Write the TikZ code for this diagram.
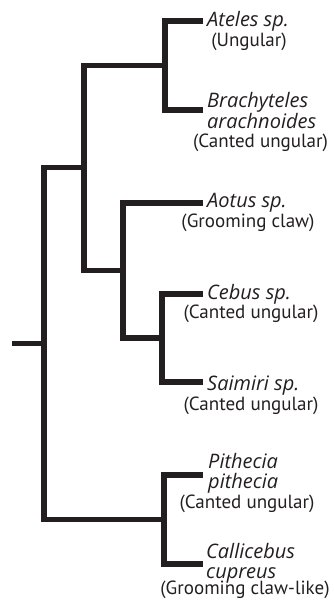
\documentclass[tikz,border=0pt]{standalone}
\usepackage{fontspec}
\setmainfont{PT Sans}
\newfontfamily\namefont{Open Sans}
\definecolor{ink}{RGB}{35,31,32}
\newlength\habitw
\newlength\taxonw
\begin{document}
\settowidth\habitw{\fontsize{10}{12}\selectfont (Canted ungular)}%
\settowidth\taxonw{\namefont\itshape\fontsize{10}{12}\selectfont arachnoides}%
\pgfmathsetmacro\habitsize{10*135/\habitw}%
\pgfmathsetmacro\taxonsize{10*109/\taxonw}%
\begin{tikzpicture}[x=1pt,y=-1pt,
  branch/.style={draw=ink,line width=5.5pt,line join=miter,line cap=butt},
  taxon/.style={anchor=base west,inner sep=0pt,font=\namefont\itshape\fontsize{\taxonsize}{20}\selectfont,text=ink},
  habit/.style={anchor=base,inner sep=0pt,font=\fontsize{\habitsize}{20}\selectfont,text=ink}]
\useasboundingbox (0,0) rectangle (333,602);
% tips
\coordinate (tAt) at (203,21);
\coordinate (tBr) at (203,110);
\coordinate (tAo) at (203,203);
\coordinate (tCe) at (203,294);
\coordinate (tSa) at (203,382);
\coordinate (tPi) at (203,475);
\coordinate (tCa) at (203,564);
% internal nodes
\coordinate (nA) at (165,65.5);
\coordinate (nD) at (162,338);
\coordinate (nC) at (123,270.5);
\coordinate (nB) at (84,167.5);
\coordinate (nE) at (164,519.5);
\coordinate (nR) at (44,343.5);
\coordinate (stub) at (12,343.5);
% branches
\path[branch] (tAt) -| (nA);
\path[branch] (tBr) -| (nA);
\path[branch] (tCe) -| (nD);
\path[branch] (tSa) -| (nD);
\path[branch] (tAo) -| (nC);
\path[branch] (nD) -| (nC);
\path[branch] (nA) -| (nB);
\path[branch] (nC) -| (nB);
\path[branch] (tPi) -| (nE);
\path[branch] (tCa) -| (nE);
\path[branch] (nB) -| (nR);
\path[branch] (nE) -| (nR);
\path[branch] (nR) -- (stub);
% labels
\node[taxon] (lAt) at (207,27) {Ateles sp.};
\node[habit] (hAt) at (249,47) {(Ungular)};
\node[taxon] (lBr1) at (207,107) {Brachyteles};
\node[taxon] (lBr2) at (207,128) {arachnoides};
\node[habit] (hBr) at (260.5,147) {(Canted ungular)};
\node[taxon] (lAo) at (207,207) {Aotus sp.};
\node[habit] (hAo) at (248,227) {(Grooming claw)};
\node[taxon] (lCe) at (207,299) {Cebus sp.};
\node[habit] (hCe) at (251,318) {(Canted ungular)};
\node[taxon] (lSa) at (207,390) {Saimiri sp.};
\node[habit] (hSa) at (251,410) {(Canted ungular)};
\node[taxon] (lPi1) at (208,468) {Pithecia};
\node[taxon] (lPi2) at (208,488) {pithecia};
\node[habit] (hPi) at (247,508) {(Canted ungular)};
\node[taxon] (lCa1) at (206,558) {Callicebus};
\node[taxon] (lCa2) at (206,578) {cupreus};
\node[habit] (hCa) at (245,594) {(Grooming claw-like)};
\end{tikzpicture}
\end{document}
